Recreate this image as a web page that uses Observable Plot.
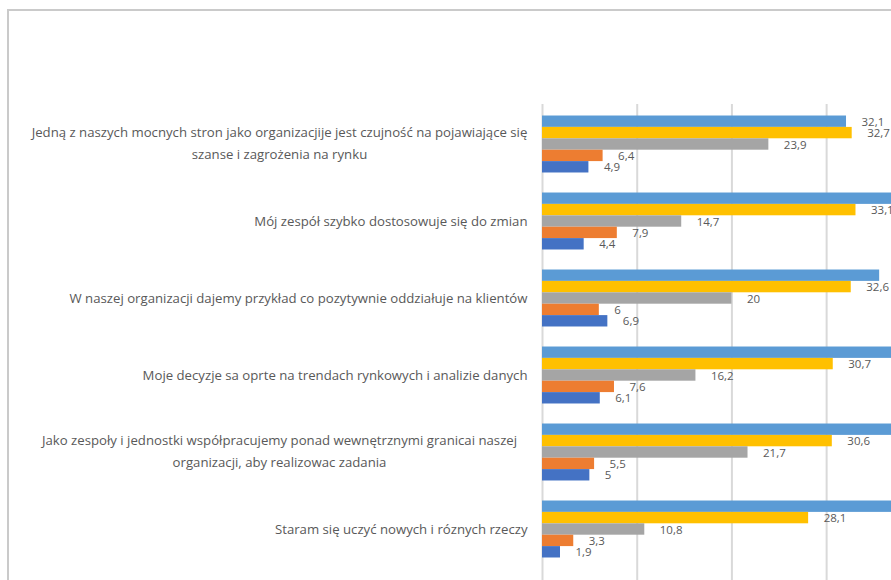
<!DOCTYPE html>
<html>
<head>
<meta charset="utf-8">
<script src="https://cdn.jsdelivr.net/npm/d3@7"></script>
<script src="https://cdn.jsdelivr.net/npm/@observablehq/plot@0.6"></script>
<style>
  html, body { margin: 0; padding: 0; overflow: hidden; background: #fff; width: 891px; height: 580px; }
  #wrap { position: relative; width: 891px; height: 580px; overflow: hidden; }
  #wrap svg { position: absolute; left: 0; top: 0; }
  #frame { position: absolute; left: 7px; top: 9px; right: -10px; bottom: -10px;
           border-left: 2px solid #cacaca; border-top: 2px solid #cacaca; pointer-events: none; }
</style>
</head>
<body>
<div id="wrap"><div id="frame"></div></div>
<script>
// Categories (top to bottom)
const categories = [
  "Jedną z naszych mocnych stron jako organizacjije jest czujność na pojawiające się\nszanse i zagrożenia na rynku",
  "Mój zespół szybko dostosowuje się do zmian",
  "W naszej organizacji dajemy przykład co pozytywnie oddziałuje na klientów",
  "Moje decyzje sa oprte na trendach rynkowych i analizie danych",
  "Jako zespoły i jednostki współpracujemy ponad wewnętrznymi granicai naszej\norganizacji, aby realizowac zadania",
  "Staram się uczyć nowych i róznych rzeczy"
];
// Series values (series 1 = bottom bar of each group ... series 5 = top bar)
const series1 = [4.9, 4.4, 6.9, 6.1, 5, 1.9];
const series2 = [6.4, 7.9, 6, 7.6, 5.5, 3.3];
const series3 = [23.9, 14.7, 20, 16.2, 21.7, 10.8];
const series4 = [32.7, 33.1, 32.6, 30.7, 30.6, 28.1];
const series5 = [32.1, 39.9, 35.6, 39.4, 37.2, 55.9];
const xTicks = [0, 10, 20, 30];

const seriesList = [series5, series4, series3, series2, series1];
const colors = ["#5B9BD5", "#FFC000", "#A5A5A5", "#ED7D31", "#4472C4"];

const bandPx = 57;
const barH = bandPx / 5;
const fmt = v => String(v).replace(".", ",");

const marks = [
  Plot.ruleX(xTicks, {x: d => d, stroke: "#d9d9d9", strokeWidth: 2})
];
seriesList.forEach((vals, i) => {
  const rows = categories.map((c, k) => ({cat: c, v: vals[k]}));
  marks.push(Plot.barX(rows, {
    y: "cat", x: "v", fill: colors[i],
    insetTop: i * barH, insetBottom: (4 - i) * barH, clip: true
  }));
  marks.push(Plot.text(rows, {
    y: "cat", x: "v", text: d => fmt(d.v),
    dx: 15, dy: (i - 2) * barH + 0.5, textAnchor: "start",
    fill: "#595959", fontSize: 11.5, clip: true
  }));
});
marks.push(Plot.text(categories.filter(c => !c.includes("\n")), {
  y: d => d, text: d => d, frameAnchor: "left", textAnchor: "end", dx: -15,
  fill: "#595959", fontSize: 13.2
}));
marks.push(Plot.text(categories.filter(c => c.includes("\n")), {
  y: d => d, text: d => d, frameAnchor: "left", textAnchor: "middle", dx: -263, dy: -3.5,
  fill: "#595959", fontSize: 13.2, lineHeight: 1.67
}));

const chart = Plot.plot({
  width: 891,
  height: 580,
  marginLeft: 542,
  marginRight: 0,
  marginTop: 104,
  marginBottom: 0,
  style: {fontFamily: "'Open Sans', sans-serif", background: "transparent"},
  x: {domain: [0, 36.85], axis: null},
  y: {domain: categories, range: [105.5, 567.5], paddingInner: 0.26, paddingOuter: 0.13, round: false, axis: null},
  marks
});
const wrap = document.getElementById("wrap");
wrap.insertBefore(chart, document.getElementById("frame"));
</script>
</body>
</html>
